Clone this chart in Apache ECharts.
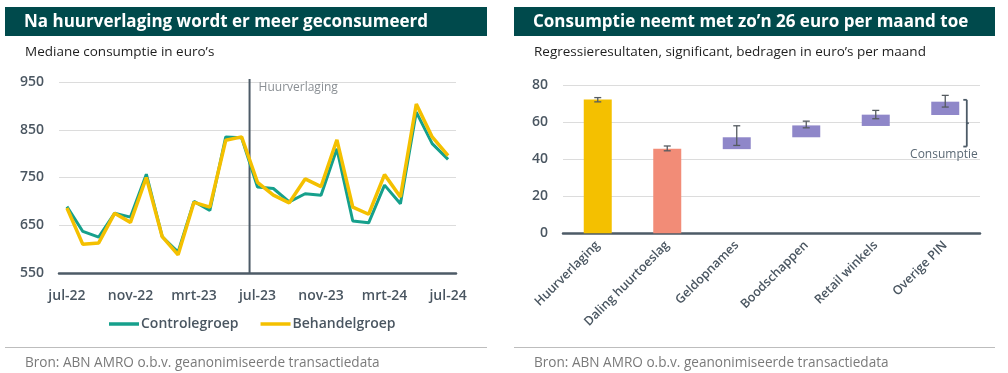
<!DOCTYPE html>
<html>
<head>
<meta charset="utf-8">
<script src="https://cdn.jsdelivr.net/npm/echarts@6/dist/echarts.min.js"></script>
<style>
html,body{margin:0;padding:0;background:#fff;}
#c{width:1008px;height:373px;}
</style>
</head>
<body>
<div id="c"></div>
<script>
// ---------- Left chart data ----------
const months = ['jul-22','aug-22','sep-22','okt-22','nov-22','dec-22','jan-23','feb-23','mrt-23','apr-23','mei-23','jun-23',
  'jul-23','aug-23','sep-23','okt-23','nov-23','dec-23','jan-24','feb-24','mrt-24','apr-24','mei-24','jun-24','jul-24'];
const controlegroep = [689,637,625,675,667,757,626,594,700,681,835,833,730,727,699,716,713,810,659,655,734,695,887,821,788];
const behandelgroep = [686,610,613,675,656,750,626,588,698,688,828,835,740,713,697,747,731,829,688,673,756,709,904,835,796];
const yTicksLeft = [550, 650, 750, 850, 950];
const eventIndex = 12;          // jul-23: Huurverlaging
const eventLabel = 'Huurverlaging';

// ---------- Right chart data ----------
const effects = ['Huurverlaging','Daling huurtoeslag','Geldopnames','Boodschappen','Retail winkels','Overige PIN'];
const barStart = [0, 0, 45.4, 51.8, 57.9, 63.8];
const barEnd   = [72.2, 45.6, 51.8, 58.2, 64.0, 71.0];
const errLow   = [70.9, 44.5, 47.4, 56.9, 61.8, 68.1];
const errHigh  = [73.2, 47.1, 58.0, 60.5, 66.3, 74.4];
const barColors = ['#f4c000','#f28c77','#8f87c9','#8f87c9','#8f87c9','#8f87c9'];
const yTicksRight = [0, 20, 40, 60, 80];
const consumptieRange = [46.8, 72.0];
const consumptieLabel = 'Consumptie';

const FONT = '"Open Sans", sans-serif';
const AXIS = '#4d5b67';
const LABEL = '#4a5661';
const TEAL = '#16a08c';
const YEL = '#f4c000';
const HEAD = '#004a4c';

const chart = echarts.init(document.getElementById('c'), null, {renderer:'canvas'});

const option = {
  animation:false,
  textStyle:{fontFamily:FONT},
  title:[
    {text:'Na huurverlaging wordt er meer geconsumeerd', left:19, top:9,
     textStyle:{color:'#fff', fontSize:17, fontWeight:'bold', fontFamily:FONT}},
    {text:'Mediane consumptie in euro’s', left:20, top:40,
     textStyle:{color:'#1e1e1e', fontSize:13.5, fontWeight:'normal', fontFamily:FONT}},
    {text:'Consumptie neemt met zo’n 26 euro per maand toe', left:528, top:9,
     textStyle:{color:'#fff', fontSize:17, fontWeight:'bold', fontFamily:FONT}},
    {text:'Regressieresultaten, significant, bedragen in euro’s per maand', left:529, top:40,
     textStyle:{color:'#1e1e1e', fontSize:13.5, fontWeight:'normal', fontFamily:FONT}},
    {text:'Bron: ABN AMRO o.b.v. geanonimiseerde transactiedata', left:20, top:351,
     textStyle:{color:'#7a7a7a', fontSize:13.6, fontWeight:'normal', fontFamily:FONT}},
    {text:'Bron: ABN AMRO o.b.v. geanonimiseerde transactiedata', left:529, top:351,
     textStyle:{color:'#7a7a7a', fontSize:13.6, fontWeight:'normal', fontFamily:FONT}}
  ],
  graphic:[
    {type:'rect', z:-1, shape:{x:5, y:7, width:482, height:29}, style:{fill:HEAD}},
    {type:'rect', z:-1, shape:{x:514, y:7, width:481, height:29}, style:{fill:HEAD}},
    {type:'line', shape:{x1:5, y1:347.5, x2:487, y2:347.5}, style:{stroke:'#bdbdbd', lineWidth:1}},
    {type:'line', shape:{x1:514, y1:347.5, x2:995, y2:347.5}, style:{stroke:'#bdbdbd', lineWidth:1}}
  ],
  legend:{
    data:['Controlegroep','Behandelgroep'],
    left:104, top:312, icon:'rect', itemWidth:30, itemHeight:3.5, itemGap:22,
    textStyle:{color:LABEL, fontSize:14, fontWeight:600, fontFamily:FONT, padding:[0,0,0,-3]}
  },
  grid:[
    {left:59, top:82, width:397, height:191},
    {left:563, top:85, width:417, height:148.3}
  ],
  xAxis:[
    {gridIndex:0, type:'category', data:months, boundaryGap:true,
     axisLine:{lineStyle:{color:AXIS, width:2.5}},
     axisTick:{interval:3, length:5, lineStyle:{color:AXIS, width:2.5}},
     axisLabel:{interval:3, color:LABEL, fontSize:14, fontWeight:600, margin:16, fontFamily:FONT},
     splitLine:{show:false}},
    {gridIndex:1, type:'category', data:effects, boundaryGap:true,
     axisLine:{lineStyle:{color:AXIS, width:2.5}},
     axisTick:{length:4, lineStyle:{color:AXIS, width:2.5}},
     axisLabel:{interval:0, rotate:45, color:LABEL, fontSize:12.5, fontWeight:600, margin:10, fontFamily:FONT},
     splitLine:{show:false}}
  ],
  yAxis:[
    {gridIndex:0, type:'value', min:yTicksLeft[0], max:yTicksLeft[yTicksLeft.length-1], interval:100,
     axisLine:{show:false}, axisTick:{show:false},
     axisLabel:{color:LABEL, fontSize:14, fontWeight:600, margin:15, fontFamily:FONT},
     splitLine:{lineStyle:{color:'#dcdcdc', width:1}}},
    {gridIndex:1, type:'value', min:yTicksRight[0], max:yTicksRight[yTicksRight.length-1], interval:20,
     axisLine:{show:false}, axisTick:{show:false},
     axisLabel:{color:LABEL, fontSize:14, fontWeight:600, margin:15, fontFamily:FONT},
     splitLine:{lineStyle:{color:'#dcdcdc', width:1}}}
  ],
  series:[
    // event line
    {type:'custom', xAxisIndex:0, yAxisIndex:0, clip:false, silent:true, z:1,
     data:[[eventIndex]],
     renderItem:function(params, api){
       const bw = api.size([1,0])[0];
       const top = api.coord([eventIndex, yTicksLeft[yTicksLeft.length-1]]);
       const bot = api.coord([eventIndex, yTicksLeft[0]]);
       const x = top[0] - bw/2;
       return {type:'group', children:[
         {type:'line', shape:{x1:x, y1:top[1]-3, x2:x, y2:bot[1]}, style:{stroke:AXIS, lineWidth:2}},
         {type:'text', style:{text:eventLabel, x:x+9, y:top[1]+6, fill:'#8a8f94', fontSize:12, fontFamily:FONT, verticalAlign:'middle'}}
       ]};
     }},
    {name:'Controlegroep', type:'line', xAxisIndex:0, yAxisIndex:0, data:controlegroep,
     showSymbol:false, symbol:'none', color:TEAL, lineStyle:{width:3, color:TEAL}, z:3},
    {name:'Behandelgroep', type:'line', xAxisIndex:0, yAxisIndex:0, data:behandelgroep,
     showSymbol:false, symbol:'none', color:YEL, lineStyle:{width:3.5, color:YEL}, z:4},
    // right: floating bars (stack: invisible base + visible part)
    {type:'bar', xAxisIndex:1, yAxisIndex:1, stack:'b', barWidth:28, silent:true,
     itemStyle:{color:'transparent'}, data:barStart},
    {type:'bar', xAxisIndex:1, yAxisIndex:1, stack:'b', barWidth:28, silent:true,
     data:barEnd.map((v,i)=>({value:+(v-barStart[i]).toFixed(2), itemStyle:{color:barColors[i]}}))},
    // error bars
    {type:'custom', xAxisIndex:1, yAxisIndex:1, clip:false, silent:true, z:5,
     data:effects.map((c,i)=>[i, errLow[i], errHigh[i]]),
     renderItem:function(params, api){
       const hi = api.coord([api.value(0), api.value(2)]);
       const lo = api.coord([api.value(0), api.value(1)]);
       const cap = 3.5;
       const st = {stroke:'#555b60', lineWidth:1.3};
       return {type:'group', children:[
         {type:'line', shape:{x1:hi[0], y1:hi[1], x2:lo[0], y2:lo[1]}, style:st},
         {type:'line', shape:{x1:hi[0]-cap, y1:hi[1], x2:hi[0]+cap, y2:hi[1]}, style:st},
         {type:'line', shape:{x1:lo[0]-cap, y1:lo[1], x2:lo[0]+cap, y2:lo[1]}, style:st}
       ]};
     }},
    // consumptie bracket
    {type:'custom', xAxisIndex:1, yAxisIndex:1, clip:false, silent:true, z:5,
     data:[[effects.length-1, consumptieRange[0], consumptieRange[1]]],
     renderItem:function(params, api){
       const bw = api.size([1,0])[0];
       const hi = api.coord([api.value(0), api.value(2)]);
       const lo = api.coord([api.value(0), api.value(1)]);
       const x = hi[0] + bw*0.31;
       const mid = (hi[1]+lo[1])/2;
       const st = {stroke:'#4d5b67', lineWidth:1.8};
       return {type:'group', children:[
         {type:'line', shape:{x1:x, y1:hi[1], x2:x, y2:lo[1]}, style:st},
         {type:'line', shape:{x1:x-3.5, y1:hi[1], x2:x, y2:hi[1]}, style:st},
         {type:'line', shape:{x1:x-3.5, y1:lo[1], x2:x, y2:lo[1]}, style:st},
         {type:'line', shape:{x1:x, y1:mid, x2:x+2, y2:mid}, style:st},
         {type:'text', style:{text:consumptieLabel, x:x+11, y:lo[1]+8, align:'right', verticalAlign:'middle', fill:'#5a6874', fontSize:12, fontFamily:FONT}}
       ]};
     }}
  ]
};
chart.setOption(option);
</script>
</body>
</html>
